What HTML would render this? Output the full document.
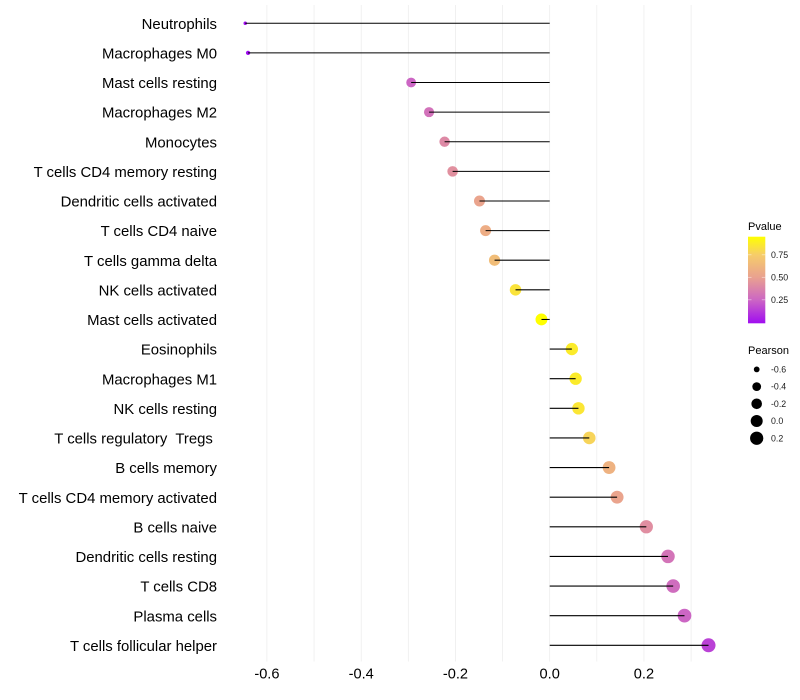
<!DOCTYPE html>
<html>
<head>
<meta charset="utf-8">
<title>Lollipop chart</title>
<style>
html,body{margin:0;padding:0;background:#fff;width:800px;height:700px;overflow:hidden}
svg{display:block;font-family:"Liberation Sans",Arial,sans-serif}
</style>
</head>
<body>
<svg id="chart" xmlns="http://www.w3.org/2000/svg" width="800" height="700" viewBox="0 0 800 700">
  <defs>
    <linearGradient id="pgrad" x1="0" y1="1" x2="0" y2="0">
      <stop offset="0" stop-color="#a00df0"/>
      <stop offset="0.269" stop-color="#cc66c4"/>
      <stop offset="0.529" stop-color="#e9a190"/>
      <stop offset="0.789" stop-color="#f6cc6a"/>
      <stop offset="1" stop-color="#ffff00"/>
    </linearGradient>
  </defs>
  <g id="grid"></g>
  <g id="marks"></g>
  <g id="ylabels"></g>
  <g id="xlabels"></g>
  <g id="legend-p">
    <text x="748" y="230" font-size="11" fill="#000">Pvalue</text>
    <rect x="748" y="236.7" width="17.3" height="86.6" fill="url(#pgrad)"/>
  </g>
  <g id="legend-s">
    <text x="748" y="354" font-size="11" fill="#000">Pearson</text>
  </g>
</svg>
<script>
const categories = ["Neutrophils","Macrophages M0","Mast cells resting","Macrophages M2","Monocytes","T cells CD4 memory resting","Dendritic cells activated","T cells CD4 naive","T cells gamma delta","NK cells activated","Mast cells activated","Eosinophils","Macrophages M1","NK cells resting","T cells regulatory  Tregs ","B cells memory","T cells CD4 memory activated","B cells naive","Dendritic cells resting","T cells CD8","Plasma cells","T cells follicular helper"];
const pearson = [-0.646,-0.640,-0.294,-0.256,-0.223,-0.206,-0.149,-0.136,-0.117,-0.0725,-0.0175,0.047,0.055,0.061,0.084,0.126,0.143,0.205,0.251,0.262,0.286,0.337];
const pvalue = [0.0,0.0,0.25,0.30,0.40,0.43,0.52,0.57,0.66,0.84,0.95,0.87,0.87,0.85,0.78,0.60,0.52,0.42,0.31,0.28,0.25,0.15];
const xTicks = [-0.6,-0.4,-0.2,0.0,0.2];
const xMinorTicks = [-0.5,-0.3,-0.1,0.1,0.3];
const colorTicks = [0.25,0.5,0.75];
const sizeTicks = [-0.6,-0.4,-0.2,0.0,0.2];

const NS = "http://www.w3.org/2000/svg";
function X(v){return 549.7 + v*471.3;}
function Y(i){return 23.26 + i*29.62;}
function PY(p){return 277.3 - (p-0.5)*90;}
function sizeR(v){
  const lo = Math.min.apply(null,pearson), hi = Math.max.apply(null,pearson);
  const t = Math.max(0,(v-lo)/(hi-lo));
  return (3.5 + 10.5*Math.sqrt(t))/2;
}
const rampStops = [0,0.25,0.5,0.75,0.95];
const rampColors = [[160,13,240],[204,102,196],[233,161,144],[246,204,106],[255,255,0]];
function color(p){
  const q = Math.max(0,Math.min(0.95,p));
  let i = 0;
  while(i < 3 && q > rampStops[i+1]) i++;
  const f = (q-rampStops[i])/(rampStops[i+1]-rampStops[i]);
  const c = rampColors[i].map((a,k)=>Math.round(a+(rampColors[i+1][k]-a)*f));
  return "rgb("+c.join(",")+")";
}
function make(tag,attrs,parent){
  const el = document.createElementNS(NS,tag);
  for(const k in attrs) el.setAttribute(k,attrs[k]);
  document.getElementById(parent).appendChild(el);
  return el;
}
function fmt(v){return v.toFixed(1).replace("-0.0","0.0");}

xTicks.concat(xMinorTicks).forEach(function(v){
  const el = make("line",{x1:X(v),x2:X(v),y1:5,y2:661.5,stroke:"#ebebeb","stroke-width":0.7},"grid");
  
  
});

categories.forEach(function(name,i){
  const v = pearson[i];
  const dot = make("circle",{cx:X(v),cy:Y(i),r:sizeR(v),fill:color(pvalue[i])},"marks");
  
  
  const stem = make("line",{x1:X(0),x2:X(v),y1:Y(i),y2:Y(i),stroke:"#000","stroke-width":1.07},"marks");
  
  
  const t = make("text",{x:217,y:Y(i)+5.6,"text-anchor":"end","font-size":14.9,fill:"#000"},"ylabels");
  t.style.whiteSpace = "pre";
  t.textContent = name;
  
  
});

xTicks.forEach(function(v){
  const t = make("text",{x:X(v),y:678.5,"text-anchor":"middle","font-size":14.6,fill:"#000"},"xlabels");
  t.textContent = fmt(v);
  
  
});

colorTicks.forEach(function(p){
  const a = make("line",{x1:748,x2:751.5,y1:PY(p),y2:PY(p),stroke:"#fff","stroke-opacity":0.6,"stroke-width":0.7},"legend-p");
  
  
  const b = make("line",{x1:761.8,x2:765.3,y1:PY(p),y2:PY(p),stroke:"#fff","stroke-opacity":0.6,"stroke-width":0.7},"legend-p");
  
  
  const t = make("text",{x:771,y:PY(p)+3.1,"font-size":8.8,fill:"#1a1a1a"},"legend-p");
  t.textContent = p.toFixed(2);
  
  
});

sizeTicks.forEach(function(v,i){
  const cy = 369.4 + i*17.2;
  const c = make("circle",{cx:756.7,cy:cy,r:sizeR(v),fill:"#000"},"legend-s");
  
  
  const t = make("text",{x:771,y:cy+3.1,"font-size":8.8,fill:"#1a1a1a"},"legend-s");
  t.textContent = fmt(v);
  
  
});
</script>
</body>
</html>
